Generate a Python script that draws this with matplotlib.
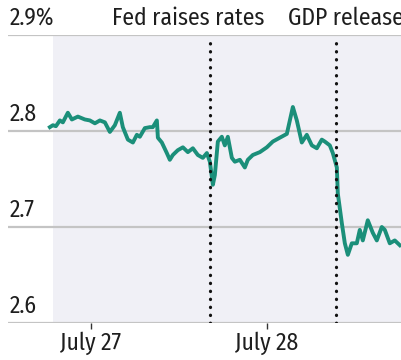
import matplotlib
matplotlib.use("Agg")
import matplotlib.pyplot as plt

# hours since midnight July 27, 10-year yield in %
hours = [-5.59, -5.18, -4.77, -4.23, -3.82, -3.14, -2.59, -1.77, -0.82, -0.14,
         0.55, 1.23, 1.91, 2.59, 3.27, 3.95, 4.36, 5.05, 5.73, 6.27,
         6.68, 7.36, 8.05, 8.45, 9.0, 9.14, 9.68, 10.36, 10.77, 11.18,
         11.86, 12.55, 13.23, 13.91, 14.59, 15.27, 15.82, 16.23, 16.64, 16.91,
         17.32, 17.86, 18.27, 18.68, 19.23, 19.64, 20.32, 21.0, 21.41, 22.09,
         23.05, 24.0, 24.82, 25.77, 26.73, 27.55, 28.09, 28.77, 29.45, 30.14,
         30.82, 31.5, 31.91, 32.59, 33.0, 33.55, 33.68, 34.23, 34.64, 35.05,
         35.59, 36.27, 36.68, 37.09, 37.77, 38.45, 39.0, 39.68, 40.09, 40.77,
         41.45, 42.14]
yields = [2.804, 2.806, 2.805, 2.811, 2.809, 2.819, 2.812, 2.815, 2.812, 2.811,
          2.808, 2.811, 2.809, 2.799, 2.806, 2.819, 2.804, 2.791, 2.788, 2.796,
          2.794, 2.803, 2.804, 2.804, 2.811, 2.793, 2.788, 2.777, 2.770, 2.775,
          2.780, 2.783, 2.778, 2.782, 2.775, 2.772, 2.777, 2.768, 2.744, 2.754,
          2.789, 2.794, 2.785, 2.794, 2.772, 2.768, 2.770, 2.762, 2.770, 2.775,
          2.778, 2.783, 2.789, 2.793, 2.797, 2.825, 2.811, 2.788, 2.796, 2.785,
          2.782, 2.791, 2.789, 2.785, 2.777, 2.762, 2.735, 2.704, 2.683, 2.671,
          2.683, 2.683, 2.697, 2.686, 2.707, 2.694, 2.686, 2.700, 2.697, 2.683,
          2.686, 2.681]

y_levels = [2.6, 2.7, 2.8, 2.9]
y_labels = ["2.6", "2.7", "2.8", "2.9%"]
day_ticks = [0, 24]
day_labels = ["July 27", "July 28"]
events = [16.2, 33.4]
event_labels = ["Fed raises rates", "GDP release"]

plt.rcParams["font.family"] = ["Fira Sans Condensed", "DejaVu Sans"]
FS = 17

fig = plt.figure(figsize=(4.01, 3.6), dpi=100)
ax = fig.add_axes([0.02, 0.1028, 0.98, 0.8])
ax.set_xlim(-11.3, 42.3)
ax.set_ylim(2.6, 2.9)

# shaded panel behind the series
ax.axvspan(-5.2, 42.3, color="#f0f0f6", zorder=0, lw=0)

for lv in y_levels:
    ax.axhline(lv, color="#c4c4c4", lw=1.6, zorder=1)

for lv, lab in zip(y_levels, y_labels):
    ax.text(0.005, lv + 0.005, lab, transform=ax.get_yaxis_transform(),
            ha="left", va="bottom", fontsize=FS, color="#1e1e1e")

ax.plot(hours, yields, color="#1b8f7a", lw=2.8, zorder=3,
        solid_joinstyle="round")

for ev in events:
    ax.vlines(ev, 2.6, 2.893, colors="#111111", lw=2.3,
              linestyles=(0, (0.1, 2.4)), capstyle="round", zorder=4)

ax.text(23.6, 2.905, event_labels[0], ha="right", va="bottom",
        fontsize=FS, color="#1e1e1e")
ax.text(26.9, 2.905, event_labels[1], ha="left", va="bottom",
        fontsize=FS, color="#1e1e1e", clip_on=False)

ax.set_xticks(day_ticks)
ax.set_xticklabels(day_labels, fontsize=FS, color="#1e1e1e")
ax.tick_params(axis="x", length=4, width=1, color="#333333", pad=2)
ax.set_yticks([])
for s in ax.spines.values():
    s.set_visible(False)

fig.savefig("out.png", dpi=100)
